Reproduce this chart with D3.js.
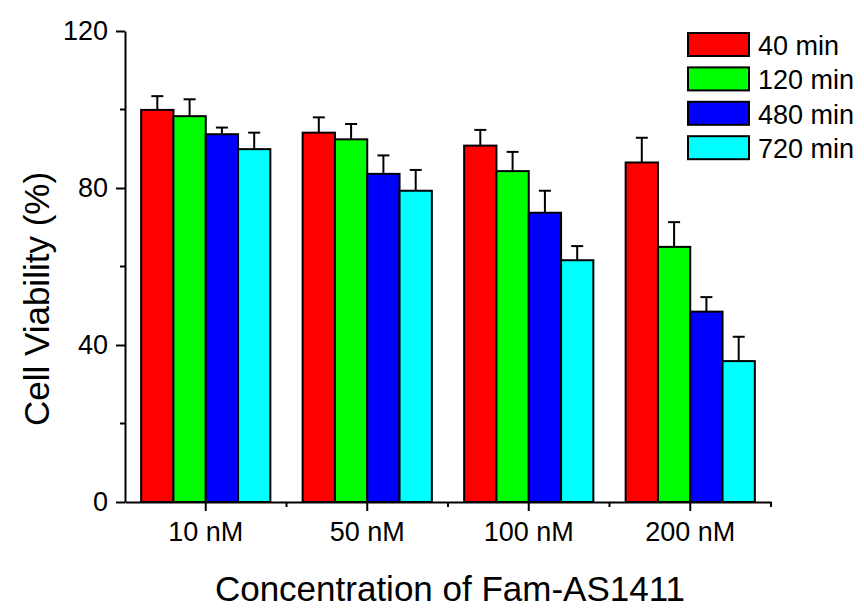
<!DOCTYPE html>
<html>
<head>
<meta charset="utf-8">
<script src="https://cdn.jsdelivr.net/npm/d3@7"></script>
<style>
  body { margin: 0; background: #fff; }
  text { font-family: "Liberation Sans", Arial, sans-serif; fill: #000; }
</style>
</head>
<body>
<svg width="864" height="610"></svg>
<script>
// data
const concentrations = ["10 nM", "50 nM", "100 nM", "200 nM"];
const times = ["40 min", "120 min", "480 min", "720 min"];
const colors = ["#ff0000", "#00ff00", "#0000ff", "#00ffff"];

// mean viability per time, one value per concentration
const v40 = [99.9, 94.1, 90.8, 86.5];
const v120 = [98.3, 92.4, 84.3, 65.0];
const v480 = [93.7, 83.6, 73.7, 48.5];
const v720 = [89.9, 79.3, 61.6, 35.9];

// error (upper bar only)
const e40 = [3.5, 3.9, 4.0, 6.3];
const e120 = [4.3, 3.9, 4.9, 6.3];
const e480 = [1.7, 4.7, 5.6, 3.7];
const e720 = [4.2, 5.3, 3.6, 6.2];

const yTicks = [0, 40, 80, 120];
const yMinor = [20, 60, 100];

const means = [v40, v120, v480, v720];
const errs = [e40, e120, e480, e720];

const svg = d3.select("svg");

const x = d3.scaleBand()
    .domain(concentrations)
    .range([125, 771])
    .padding(0);

const xs = d3.scaleBand()
    .domain(times)
    .range([0, x.bandwidth()])
    .paddingInner(0)
    .paddingOuter(0.5);

const y = d3.scaleLinear()
    .domain([0, 120])
    .range([502, 31]);

// bars
const rows = [];
concentrations.forEach((c, i) => {
    times.forEach((t, j) => {
        rows.push({ c: c, t: t, j: j, v: means[j][i], e: errs[j][i] });
    });
});

// error bars first so the bar outline sits on top
const eb = svg.append("g").attr("stroke", "#000").attr("stroke-width", 2);
rows.forEach(d => {
    const cx = x(d.c) + xs(d.t) + xs.bandwidth() / 2;
    eb.append("line")
        .attr("x1", cx).attr("x2", cx)
        .attr("y1", y(d.v)).attr("y2", y(d.v + d.e));
    eb.append("line")
        .attr("x1", cx - 6).attr("x2", cx + 6)
        .attr("y1", y(d.v + d.e)).attr("y2", y(d.v + d.e));
});

svg.append("g")
    .selectAll("rect")
    .data(rows)
    .enter()
    .append("rect")
    .attr("x", d => x(d.c) + xs(d.t))
    .attr("y", d => y(d.v))
    .attr("width", xs.bandwidth())
    .attr("height", d => y(0) - y(d.v))
    .attr("fill", d => colors[d.j])
    .attr("stroke", "#000")
    .attr("stroke-width", 2);

// y axis
const yAxis = svg.append("g")
    .attr("transform", "translate(125,0)")
    .call(d3.axisLeft(y).tickValues(yTicks).tickSize(9).tickSizeOuter(0).tickPadding(8));
yAxis.selectAll("text").style("font-size", "27px");
yAxis.append("g")
    .selectAll("line")
    .data(yMinor)
    .enter()
    .append("line")
    .attr("x1", -5).attr("x2", 0)
    .attr("y1", d => y(d)).attr("y2", d => y(d))
    .attr("stroke", "#000");

// x axis
const xAxis = svg.append("g")
    .attr("transform", "translate(0,502)")
    .call(d3.axisBottom(x).tickSize(9).tickSizeOuter(0).tickPadding(11));
xAxis.selectAll("text").style("font-size", "27px");
xAxis.append("g")
    .selectAll("line")
    .data(concentrations.slice(1).map(c => x(c)).concat([x.range()[1]]))
    .enter()
    .append("line")
    .attr("x1", d => d).attr("x2", d => d)
    .attr("y1", 0).attr("y2", 5)
    .attr("stroke", "#000");

svg.selectAll(".domain, .tick line, g line").attr("stroke-width", 2);
svg.selectAll(".tick text").attr("fill", "#000");

// axis titles
svg.append("text")
    .attr("x", 450)
    .attr("y", 601)
    .attr("text-anchor", "middle")
    .style("font-size", "35px")
    .text("Concentration of Fam-AS1411");

svg.append("text")
    .attr("transform", "translate(49,299) rotate(-90)")
    .attr("text-anchor", "middle")
    .style("font-size", "35px")
    .text("Cell Viability (%)");

// legend
const legend = svg.append("g")
    .selectAll("g")
    .data(times)
    .enter()
    .append("g")
    .attr("transform", (d, i) => `translate(688,${33 + i * 34.4})`);

legend.append("rect")
    .attr("width", 61)
    .attr("height", 23)
    .attr("fill", (d, i) => colors[i])
    .attr("stroke", "#000")
    .attr("stroke-width", 2);

legend.append("text")
    .attr("x", 70)
    .attr("y", 22)
    .style("font-size", "27px")
    .text(d => d);
</script>
</body>
</html>
